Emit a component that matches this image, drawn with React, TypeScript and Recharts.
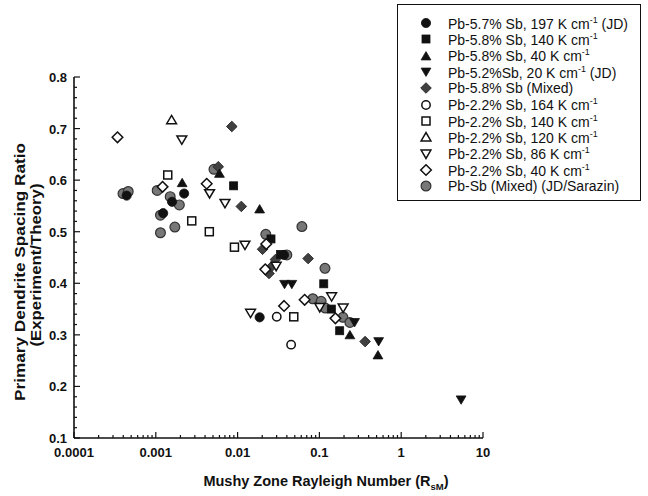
import React from "react";
import { ScatterChart, Scatter, XAxis, YAxis } from "recharts";

type Pt = { x: number; y: number };

// x = mushy zone Rayleigh number, y = spacing ratio (experiment / theory)
const pb57Sb197: Pt[] = [
  { x: 0.00044, y: 0.57 },
  { x: 0.00123, y: 0.536 },
  { x: 0.00158, y: 0.558 },
  { x: 0.00222, y: 0.574 },
  { x: 0.037, y: 0.455 },
  { x: 0.0186, y: 0.334 },
];
const pb58Sb140: Pt[] = [
  { x: 0.00894, y: 0.589 },
  { x: 0.0256, y: 0.486 },
  { x: 0.0335, y: 0.456 },
  { x: 0.113, y: 0.399 },
  { x: 0.14, y: 0.35 },
  { x: 0.177, y: 0.308 },
];
const pb58Sb40: Pt[] = [
  { x: 0.0021, y: 0.595 },
  { x: 0.006, y: 0.613 },
  { x: 0.0186, y: 0.544 },
  { x: 0.236, y: 0.3 },
  { x: 0.52, y: 0.261 },
];
const pb52Sb20: Pt[] = [
  { x: 0.0375, y: 0.398 },
  { x: 0.046, y: 0.398 },
  { x: 0.269, y: 0.324 },
  { x: 0.53, y: 0.287 },
  { x: 5.4, y: 0.174 },
];
const pb58SbMixed: Pt[] = [
  { x: 0.0085, y: 0.704 },
  { x: 0.0058, y: 0.626 },
  { x: 0.0111, y: 0.549 },
  { x: 0.0202, y: 0.466 },
  { x: 0.0242, y: 0.419 },
  { x: 0.0259, y: 0.432 },
  { x: 0.029, y: 0.446 },
  { x: 0.0728, y: 0.448 },
  { x: 0.362, y: 0.287 },
];
const pb22Sb164: Pt[] = [
  { x: 0.0301, y: 0.335 },
  { x: 0.0451, y: 0.281 },
];
const pb22Sb140: Pt[] = [
  { x: 0.0014, y: 0.61 },
  { x: 0.00275, y: 0.521 },
  { x: 0.00451, y: 0.5 },
  { x: 0.00915, y: 0.47 },
  { x: 0.0486, y: 0.335 },
];
const pb22Sb120: Pt[] = [{ x: 0.00156, y: 0.717 }];
const pb22Sb86: Pt[] = [
  { x: 0.00208, y: 0.678 },
  { x: 0.00454, y: 0.574 },
  { x: 0.00701, y: 0.555 },
  { x: 0.0123, y: 0.474 },
  { x: 0.0144, y: 0.342 },
  { x: 0.0296, y: 0.433 },
  { x: 0.101, y: 0.353 },
  { x: 0.141, y: 0.374 },
  { x: 0.195, y: 0.352 },
];
const pb22Sb40: Pt[] = [
  { x: 0.00034, y: 0.683 },
  { x: 0.00121, y: 0.587 },
  { x: 0.00419, y: 0.593 },
  { x: 0.0224, y: 0.476 },
  { x: 0.0218, y: 0.427 },
  { x: 0.037, y: 0.356 },
  { x: 0.066, y: 0.368 },
  { x: 0.157, y: 0.332 },
];
const pbSbMixed: Pt[] = [
  { x: 0.000397, y: 0.574 },
  { x: 0.00046, y: 0.578 },
  { x: 0.00104, y: 0.58 },
  { x: 0.00114, y: 0.532 },
  { x: 0.00114, y: 0.498 },
  { x: 0.0015, y: 0.568 },
  { x: 0.00194, y: 0.552 },
  { x: 0.00171, y: 0.509 },
  { x: 0.00514, y: 0.621 },
  { x: 0.0221, y: 0.495 },
  { x: 0.04, y: 0.455 },
  { x: 0.0611, y: 0.51 },
  { x: 0.117, y: 0.429 },
  { x: 0.083, y: 0.37 },
  { x: 0.105, y: 0.365 },
  { x: 0.118, y: 0.352 },
  { x: 0.194, y: 0.334 },
  { x: 0.236, y: 0.324 },
];

const xMajorTicks = [0.0001, 0.001, 0.01, 0.1, 1, 10];
const xLabels = ["0.0001", "0.001", "0.01", "0.1", "1", "10"];
const yMajorTicks = [0.1, 0.2, 0.3, 0.4, 0.5, 0.6, 0.7, 0.8];

const xMinorTicks: number[] = [];
xMajorTicks.slice(0, -1).forEach((d) => {
  for (let m = 2; m <= 9; m++) xMinorTicks.push(+(d * m).toPrecision(3));
});
const yMinorTicks: number[] = [];
yMajorTicks.slice(0, -1).forEach((d) => {
  for (let k = 1; k <= 4; k++) yMinorTicks.push(+(d + k * 0.02).toFixed(2));
});
const xTicks = [...xMajorTicks, ...xMinorTicks];
const yTicks = [...yMajorTicks, ...yMinorTicks];

type Kind =
  | "dot" | "square" | "up" | "down" | "diamond"
  | "oDot" | "oSquare" | "oUp" | "oDown" | "oDiamond" | "gray";

type Series = { name: string; sup?: string; tail?: string; kind: Kind; data: Pt[] };

const series: Series[] = [
  { name: "Pb-5.7% Sb, 197 K cm", sup: "-1", tail: " (JD)", kind: "dot", data: pb57Sb197 },
  { name: "Pb-5.8% Sb, 140 K cm", sup: "-1", kind: "square", data: pb58Sb140 },
  { name: "Pb-5.8% Sb, 40 K cm", sup: "-1", kind: "up", data: pb58Sb40 },
  { name: "Pb-5.2%Sb, 20 K cm", sup: "-1", tail: " (JD)", kind: "down", data: pb52Sb20 },
  { name: "Pb-5.8% Sb (Mixed)", kind: "diamond", data: pb58SbMixed },
  { name: "Pb-2.2% Sb, 164 K cm", sup: "-1", kind: "oDot", data: pb22Sb164 },
  { name: "Pb-2.2% Sb, 140 K cm", sup: "-1", kind: "oSquare", data: pb22Sb140 },
  { name: "Pb-2.2% Sb, 120 K cm", sup: "-1", kind: "oUp", data: pb22Sb120 },
  { name: "Pb-2.2% Sb, 86 K cm", sup: "-1", kind: "oDown", data: pb22Sb86 },
  { name: "Pb-2.2% Sb, 40 K cm", sup: "-1", kind: "oDiamond", data: pb22Sb40 },
  { name: "Pb-Sb (Mixed) (JD/Sarazin)", kind: "gray", data: pbSbMixed },
];

// draw order: gray mixed points sit under the others
const drawOrder = [10, 4, 0, 1, 2, 3, 5, 6, 7, 8, 9];

const FONT = "'Liberation Sans', Arial, Helvetica, sans-serif";

const Marker = ({ kind, cx, cy }: { kind: Kind; cx: number; cy: number }) => {
  const black = "#111";
  const open = { fill: "#fff", stroke: black, strokeWidth: 1.5 };
  const solid = { fill: black, stroke: black, strokeWidth: 0.8 };
  const s = 4;
  const t = 4.9;
  const up = `${cx - t},${cy + t * 0.8} ${cx + t},${cy + t * 0.8} ${cx},${cy - t * 0.9}`;
  const down = `${cx - t},${cy - t * 0.8} ${cx + t},${cy - t * 0.8} ${cx},${cy + t * 0.9}`;
  const dia = `${cx},${cy - 5.3} ${cx + 5.3},${cy} ${cx},${cy + 5.3} ${cx - 5.3},${cy}`;
  switch (kind) {
    case "dot":
      return <circle cx={cx} cy={cy} r={4.6} {...solid} />;
    case "square":
      return <rect x={cx - s} y={cy - s} width={2 * s} height={2 * s} {...solid} />;
    case "up":
      return <polygon points={up} {...solid} />;
    case "down":
      return <polygon points={down} {...solid} />;
    case "diamond":
      return <polygon points={dia} fill="#404040" stroke="#222" strokeWidth={0.9} />;
    case "oDot":
      return <circle cx={cx} cy={cy} r={4.2} {...open} />;
    case "oSquare":
      return <rect x={cx - s} y={cy - s} width={2 * s} height={2 * s} {...open} />;
    case "oUp":
      return <polygon points={up} {...open} />;
    case "oDown":
      return <polygon points={down} {...open} />;
    case "oDiamond":
      return <polygon points={dia} {...open} />;
    default:
      return <circle cx={cx} cy={cy} r={4.9} fill="#777" stroke="#333" strokeWidth={1.2} />;
  }
};

const isMajor = (list: number[], v: number) => list.some((m) => Math.abs(m - v) < 1e-9);

const BottomTick = (p: any) => {
  const v = p.payload.value;
  const i = xMajorTicks.findIndex((m) => Math.abs(m - v) < 1e-9);
  const major = i >= 0;
  return (
    <g>
      <line x1={p.x} x2={p.x} y1={p.y} y2={p.y - (major ? 6 : 3)} stroke="#111" strokeWidth={1.2} />
      {major && (
        <text x={p.x} y={p.y + 19} textAnchor="middle" fontSize={13} fontWeight="bold" fill="#111" fontFamily={FONT}>
          {xLabels[i]}
        </text>
      )}
    </g>
  );
};

const TopTick = (p: any) => {
  const major = isMajor(xMajorTicks, p.payload.value);
  return <line x1={p.x} x2={p.x} y1={p.y} y2={p.y + (major ? 6 : 3)} stroke="#111" strokeWidth={1.2} />;
};

const LeftTick = (p: any) => {
  const v = p.payload.value;
  const major = isMajor(yMajorTicks, v);
  return (
    <g>
      <line x1={p.x} x2={p.x + (major ? 6 : 3)} y1={p.y} y2={p.y} stroke="#111" strokeWidth={1.2} />
      {major && (
        <text x={p.x - 7} y={p.y + 5} textAnchor="end" fontSize={13} fontWeight="bold" fill="#111" fontFamily={FONT}>
          {v.toFixed(1)}
        </text>
      )}
    </g>
  );
};

const RightTick = (p: any) => {
  const major = isMajor(yMajorTicks, p.payload.value);
  return <line x1={p.x} x2={p.x - (major ? 6 : 3)} y1={p.y} y2={p.y} stroke="#111" strokeWidth={1.2} />;
};

const axisLine = { stroke: "#111", strokeWidth: 1.6 };

const Legend = () => (
  <div
    style={{
      position: "absolute",
      left: 397,
      top: 4,
      width: 244,
      height: 197,
      boxSizing: "border-box",
      border: "1.3px solid #111",
      background: "#fff",
      fontFamily: FONT,
      fontSize: 14,
      color: "#111",
      paddingTop: 10,
    }}
  >
    {series.map((s) => (
      <div key={s.name} style={{ height: 16.3, display: "flex", alignItems: "center", whiteSpace: "nowrap" }}>
        <svg width={14} height={14} style={{ marginLeft: 21, marginRight: 15 }}>
          <Marker kind={s.kind} cx={7} cy={7} />
        </svg>
        <span>
          {s.name}
          {s.sup && <sup style={{ fontSize: 9 }}>{s.sup}</sup>}
          {s.tail}
        </span>
      </div>
    ))}
  </div>
);

export default function App() {
  return (
    <div style={{ position: "absolute", left: 0, top: 0, width: 648, height: 496, background: "#fff" }}>
      <ScatterChart width={648} height={496} margin={{ top: 77, right: 165, bottom: 0, left: 0 }}>
        <XAxis
          xAxisId="b"
          dataKey="x"
          type="number"
          scale="log"
          domain={[0.0001, 10]}
          ticks={xTicks}
          interval={0}
          allowDataOverflow
          height={58}
          tickSize={0}
          tickMargin={0}
          tickLine={false}
          axisLine={axisLine}
          tick={BottomTick}
        />
        <XAxis
          xAxisId="t"
          orientation="top"
          dataKey="x"
          type="number"
          scale="log"
          domain={[0.0001, 10]}
          ticks={xTicks}
          interval={0}
          allowDataOverflow
          height={0}
          tickSize={0}
          tickMargin={0}
          tickLine={false}
          axisLine={axisLine}
          tick={TopTick}
        />
        <YAxis
          yAxisId="l"
          dataKey="y"
          type="number"
          domain={[0.1, 0.8]}
          ticks={yTicks}
          interval={0}
          allowDataOverflow
          width={74}
          tickSize={0}
          tickMargin={0}
          tickLine={false}
          axisLine={axisLine}
          tick={LeftTick}
        />
        <YAxis
          yAxisId="r"
          orientation="right"
          dataKey="y"
          type="number"
          domain={[0.1, 0.8]}
          ticks={yTicks}
          interval={0}
          allowDataOverflow
          width={0}
          tickSize={0}
          tickMargin={0}
          tickLine={false}
          axisLine={axisLine}
          tick={RightTick}
        />
        {drawOrder.map((i) => {
          const s = series[i];
          return (
            <Scatter
              key={s.name}
              name={s.name}
              data={s.data}
              xAxisId="b"
              yAxisId="l"
              isAnimationActive={false}
              shape={(p: any) => <Marker kind={s.kind} cx={p.cx} cy={p.cy} />}
            />
          );
        })}
      </ScatterChart>
      <svg
        width={648}
        height={496}
        style={{ position: "absolute", left: 0, top: 0, pointerEvents: "none" }}
        fontFamily={FONT}
        fontWeight="bold"
        fill="#111"
      >
        <g transform="translate(25,272) rotate(-90)">
          <text textAnchor="middle" fontSize={14.5} textLength={258} lengthAdjust="spacingAndGlyphs">
            Primary Dendrite Spacing Ratio
          </text>
        </g>
        <g transform="translate(41,265) rotate(-90)">
          <text textAnchor="middle" fontSize={14.5} textLength={163} lengthAdjust="spacingAndGlyphs">
            (Experiment/Theory)
          </text>
        </g>
        <text x={326} y={486} textAnchor="middle" fontSize={14.5}>
          Mushy Zone Rayleigh Number (R
          <tspan fontSize={9.5} dy={3.5}>sM</tspan>
          <tspan dy={-3.5}>)</tspan>
        </text>
      </svg>
      <Legend />
    </div>
  );
}
